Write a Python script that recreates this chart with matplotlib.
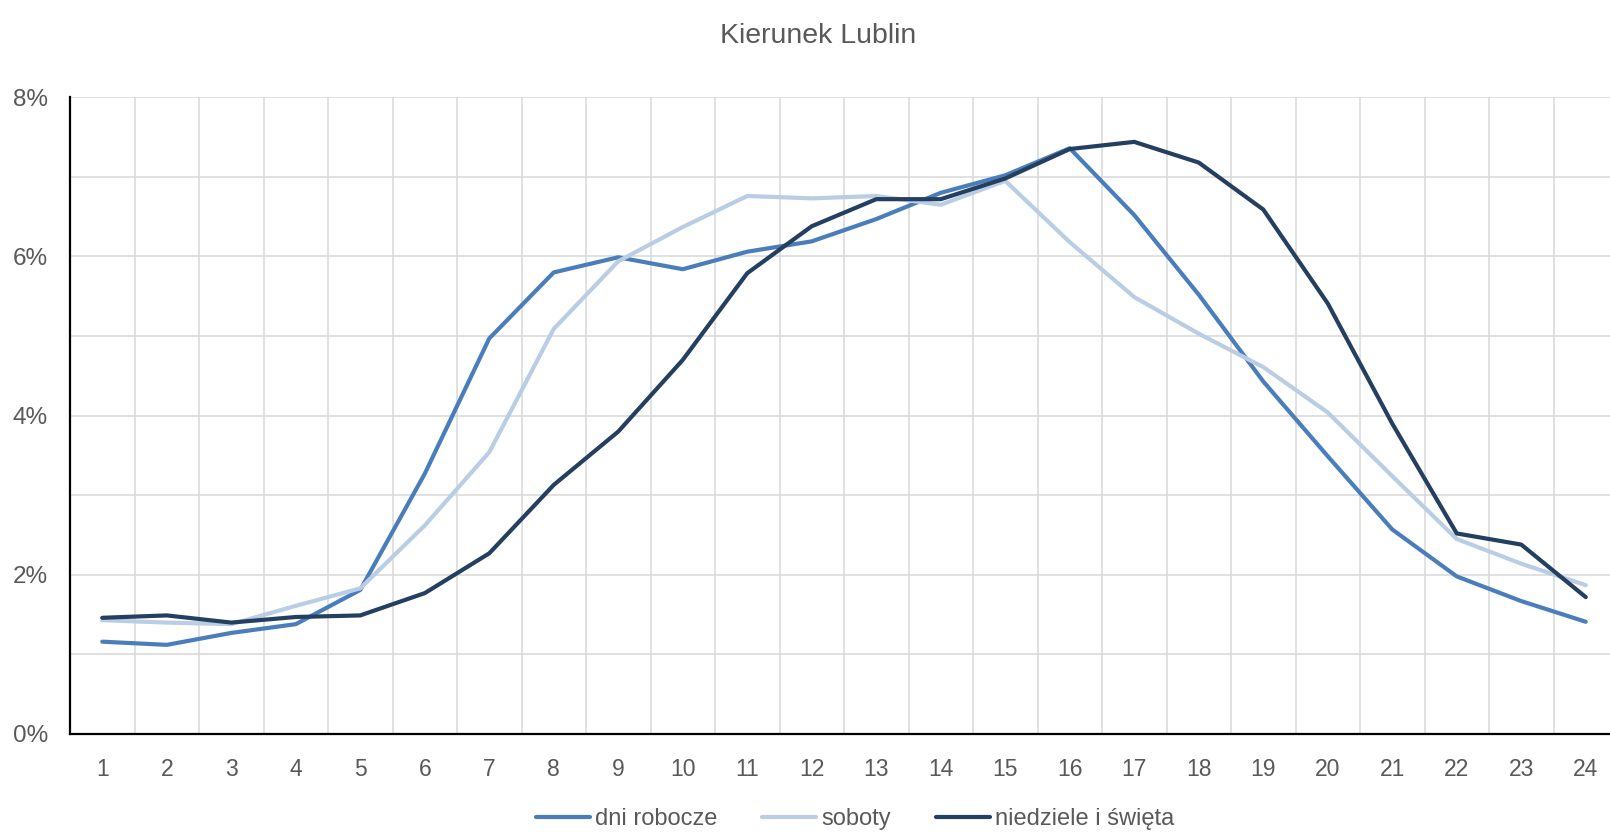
import matplotlib
matplotlib.use("Agg")
import matplotlib.pyplot as plt
from matplotlib.ticker import FuncFormatter, MultipleLocator

hours = list(range(1, 25))
dni_robocze = [1.16, 1.12, 1.27, 1.38, 1.81, 3.27, 4.97, 5.80, 5.99, 5.84, 6.06, 6.19,
               6.47, 6.80, 7.02, 7.36, 6.52, 5.52, 4.43, 3.49, 2.57, 1.98, 1.67, 1.41]
soboty = [1.43, 1.40, 1.38, 1.61, 1.83, 2.62, 3.54, 5.09, 5.94, 6.37, 6.76, 6.73,
          6.76, 6.65, 6.95, 6.18, 5.49, 5.03, 4.61, 4.04, 3.24, 2.45, 2.14, 1.87]
niedziele = [1.46, 1.49, 1.40, 1.47, 1.49, 1.77, 2.27, 3.13, 3.80, 4.70, 5.79, 6.38,
             6.72, 6.72, 6.98, 7.35, 7.44, 7.18, 6.59, 5.41, 3.90, 2.52, 2.38, 1.72]
series_labels = ["dni robocze", "soboty", "niedziele i święta"]
title = "Kierunek Lublin"

plt.rcParams['font.family'] = ['Liberation Sans', 'DejaVu Sans']
fig = plt.figure(figsize=(16.1, 8.34), dpi=100)
ax = fig.add_axes([70/1610, 1-734/834, (1618-70)/1610, (734-97.3)/834])

colors = ["#4a7ebb", "#b9cde5", "#243f60"]
for vals, lab, c in zip([dni_robocze, soboty, niedziele], series_labels, colors):
    ax.plot(hours, vals, color=c, lw=3.0, label=lab, solid_joinstyle='round', solid_capstyle='round')

ax.set_xlim(0.5, 24.5)
ax.set_ylim(0, 8)
ax.set_xticks(hours)
ax.set_xticks([h + 0.5 for h in hours[:-1]], minor=True)
ax.yaxis.set_major_locator(MultipleLocator(2))
ax.yaxis.set_minor_locator(MultipleLocator(1))
ax.yaxis.set_major_formatter(FuncFormatter(lambda v, p: f"{int(round(v))}%"))
ax.grid(True, which='minor', axis='x', color='#d9d9d9', lw=1.1)
ax.grid(True, which='both', axis='y', color='#d9d9d9', lw=1.1)
ax.set_axisbelow(True)
ax.tick_params(which='both', length=0)
ax.tick_params(axis='x', labelsize=16.5, labelcolor='#595959', pad=17)
ax.tick_params(axis='y', labelsize=17.5, labelcolor='#595959', pad=16)
for s in ['top', 'right']:
    ax.spines[s].set_visible(False)
for s in ['left', 'bottom']:
    ax.spines[s].set_color('black')
    ax.spines[s].set_linewidth(1.6)

fig.text(0.508, 1-36/834, title, ha='center', va='center', fontsize=20.5, color='#595959')
fig.legend(loc='center', bbox_to_anchor=(0.531, 1-819/834), ncol=3, frameon=False,
           fontsize=17, labelcolor='#595959', handlelength=2.3, handletextpad=0.2, columnspacing=1.9)

fig.savefig("out.png", dpi=100)
